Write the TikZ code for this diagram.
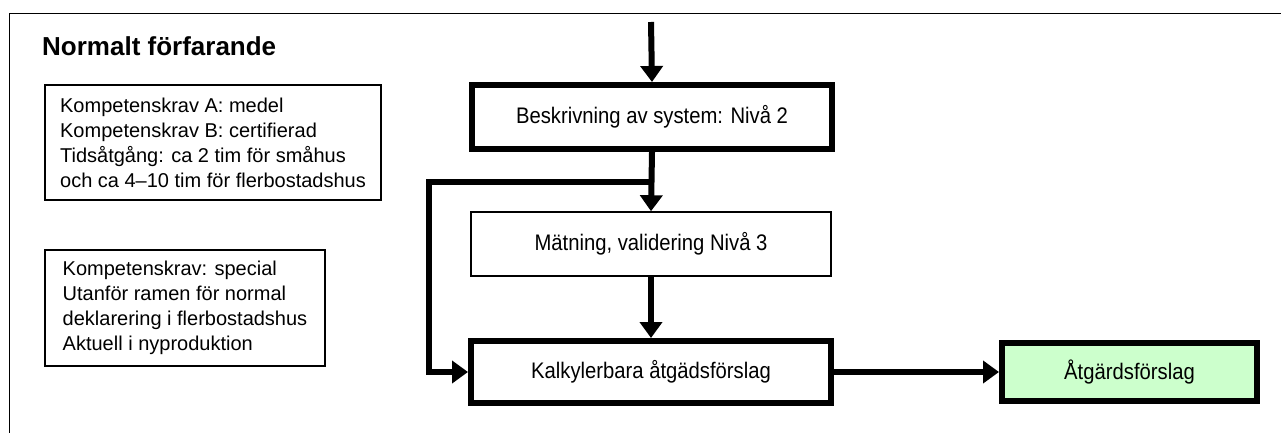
\documentclass[tikz,border=0pt]{standalone}
\usepackage{fontspec}
\setmainfont{Liberation Sans}
\newfontfamily\stepfont[FakeStretch=0.9]{Liberation Sans}
\usetikzlibrary{arrows.meta}
\definecolor{resultgreen}{HTML}{CCFFCC}
\begin{document}
\begin{tikzpicture}[x=1pt,y=-1pt,
  every node/.style={font=\fontsize{20}{25}\selectfont, inner sep=0pt},
  steptext/.style={font=\stepfont\fontsize{22.5}{27}\selectfont},
  heavybox/.style={draw, line width=6pt, minimum width=360pt, minimum height=64pt, steptext},
  lightbox/.style={draw, line width=1.5pt},
  flow/.style={line width=6pt, -{Triangle[length=16pt,width=22pt]}}
]
\useasboundingbox (0,0) rectangle (1281,433);

% outer frame (top and left edges only)
\draw[line width=1.8pt] (9.5,433) -- (9.5,13.5) -- (1281,13.5);

% heading
\node[anchor=base west, font=\fontsize{26}{30}\selectfont\bfseries] (title) at (42,56) {Normalt förfarande};

% information boxes
\node[lightbox, minimum width=336pt, minimum height=115pt, align=left] (info1) at (213,142.5)
  {Kompetenskrav A: medel\\Kompetenskrav B: certifierad\\Tidsåtgång: ca 2 tim för småhus\\och ca 4–10 tim för flerbostadshus};
\node[lightbox, minimum width=280pt, minimum height=116pt, align=left] (info2) at (185,308)
  {Kompetenskrav: special\\Utanför ramen för normal\\deklarering i flerbostadshus\\Aktuell i nyproduktion};

% process steps
\node[heavybox] (sys) at (652,117) {Beskrivning av system: Nivå 2};
\node[lightbox, steptext, minimum width=360pt, minimum height=64pt] (meas) at (651,244) {Mätning, validering Nivå 3};
\node[heavybox, minimum height=62pt] (calc) at (651,372) {Kalkylerbara åtgädsförslag};
\node[heavybox, minimum width=255pt, minimum height=58pt, fill=resultgreen] (act) at (1129.5,372) {Åtgärdsförslag};

% connectors
\coordinate (entry) at (651,22);
\coordinate (split) at (651,182);
\coordinate (bypass) at (429,182);
\draw[flow] (entry) -- (sys.north);
\draw[flow] (sys.south) -- (meas.north);
\draw[flow] (split) -- (bypass) |- (calc.west);
\draw[flow] (meas.south) -- (calc.north);
\draw[flow] (calc.east) -- (act.west);
\end{tikzpicture}
\end{document}
